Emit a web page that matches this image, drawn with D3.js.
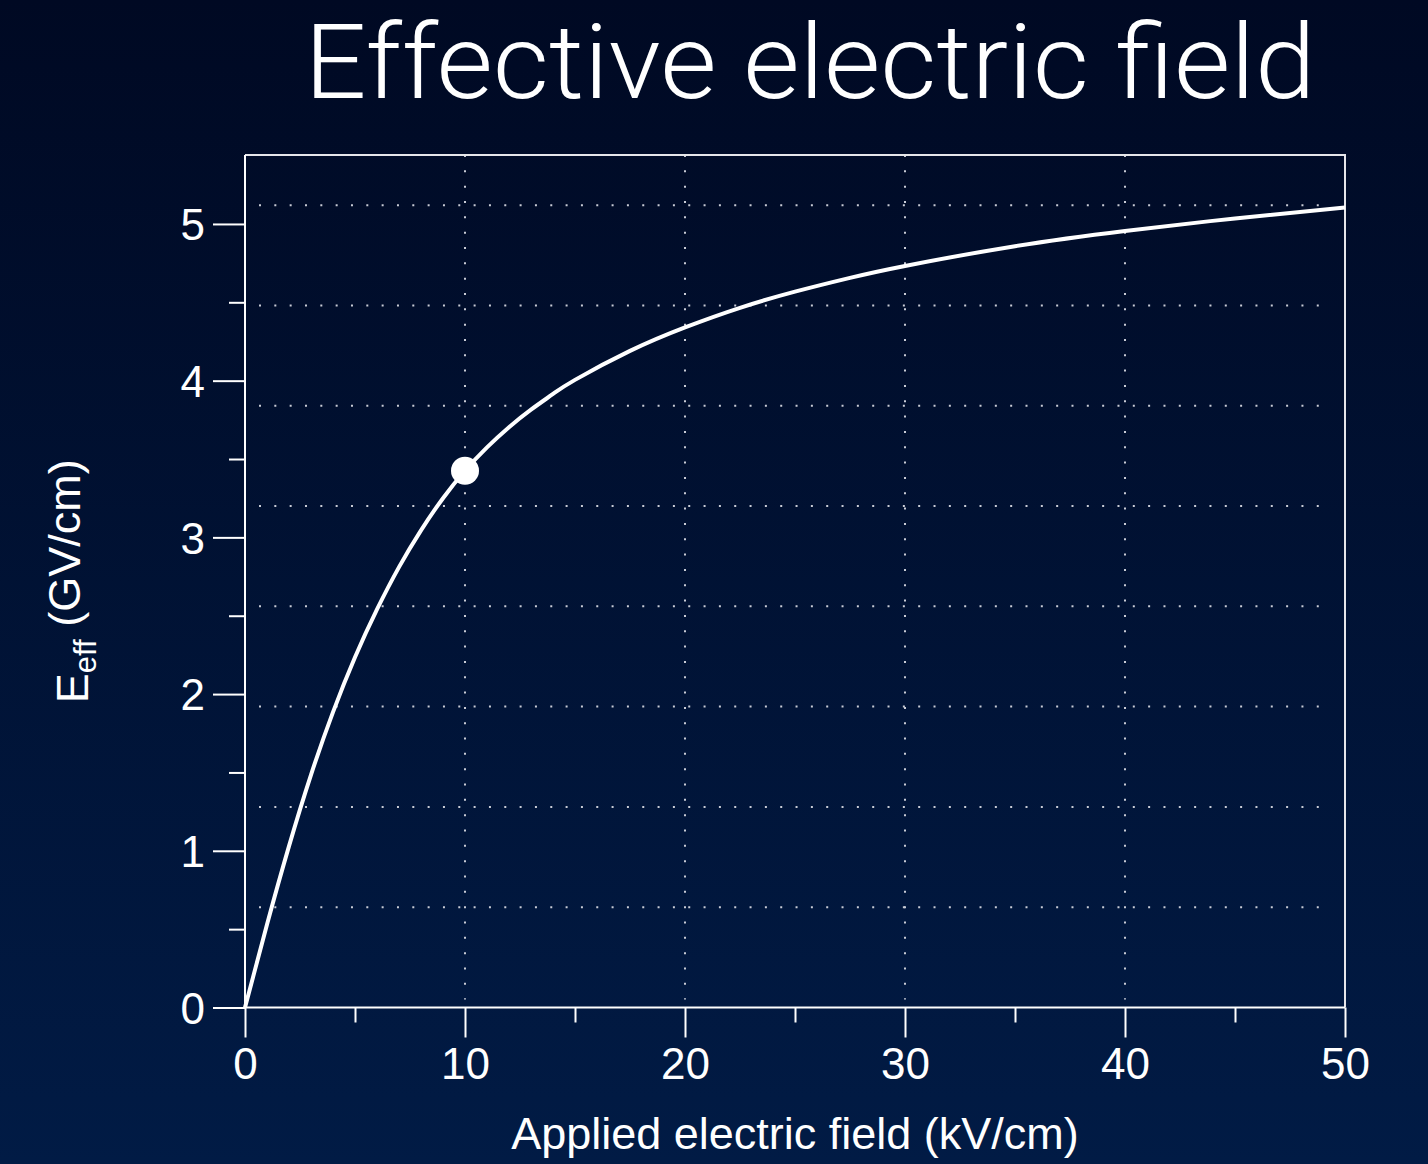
<!DOCTYPE html>
<html>
<head>
<meta charset="utf-8">
<script src="https://cdn.jsdelivr.net/npm/d3@7"></script>
<style>
  html, body { margin: 0; padding: 0; background: #000a26; }
  svg { display: block; }
</style>
</head>
<body>
<script>
// Applied field (kV/cm) and resulting effective field (GV/cm)
const fieldKV = [0, 1, 2, 3, 4, 5, 6, 7, 8, 9, 10, 11, 12, 13, 14, 15, 17.5, 20, 22.5, 25, 27.5, 30, 35, 40, 45, 50];
const effGV   = [0, 0.53, 1.03, 1.485, 1.885, 2.235, 2.54, 2.81, 3.045, 3.25, 3.425, 3.574, 3.703, 3.815, 3.915, 4.005, 4.19, 4.34, 4.465, 4.568, 4.656, 4.732, 4.858, 4.955, 5.035, 5.105];

// Highlighted operating point
const markField = [10];
const markEff   = [3.425];

// Axis ticks and grid positions
const xMajor = [0, 10, 20, 30, 40, 50];
const xMinor = [5, 15, 25, 35, 45];
const yMajor = [0, 1, 2, 3, 4, 5];
const yMinor = [0.5, 1.5, 2.5, 3.5, 4.5];
const xGrid  = [10, 20, 30, 40];
const yGrid  = [0.64, 1.28, 1.92, 2.56, 3.2, 3.84, 4.48, 5.12];

const titleText = "Effective electric field";
const xLabel = "Applied electric field (kV/cm)";

const W = 1428, H = 1164;
const plot = { left: 245, right: 1345, top: 155, bottom: 1007.5 };

const svg = d3.select("body").append("svg")
  .attr("width", W).attr("height", H);

// background gradient
const defs = svg.append("defs");
const grad = defs.append("linearGradient")
  .attr("id", "bg").attr("x1", 0).attr("y1", 0).attr("x2", 0).attr("y2", 1);
grad.append("stop").attr("offset", "0%").attr("stop-color", "#000923");
grad.append("stop").attr("offset", "100%").attr("stop-color", "#011b45");
svg.append("rect").attr("width", W).attr("height", H).attr("fill", "url(#bg)");

const x = d3.scaleLinear().domain([0, 50]).range([plot.left, plot.right]);
const y = d3.scaleLinear().domain([0, 5.44]).range([plot.bottom, plot.top]);

const font = "'Liberation Sans', Arial, Helvetica, sans-serif";

// dotted grid
const gridG = svg.append("g")
  .attr("stroke", "#c9ccd6").attr("stroke-width", 2)
  .attr("stroke-dasharray", "2,13.33").attr("fill", "none");
gridG.selectAll("line.h").data(yGrid).join("line")
  .attr("class", "h")
  .attr("x1", plot.left + 14).attr("x2", plot.right - 14)
  .attr("y1", d => y(d)).attr("y2", d => y(d));
gridG.selectAll("line.v").data(xGrid).join("line")
  .attr("class", "v")
  .attr("x1", d => x(d)).attr("x2", d => x(d))
  .attr("y1", plot.top).attr("y2", plot.bottom - 8);

// frame (top and right)
svg.append("path")
  .attr("d", `M${plot.left},${plot.top}H${plot.right}V${plot.bottom}`)
  .attr("fill", "none").attr("stroke", "#e6e6ea").attr("stroke-width", 2);

// axes
function styleAxis(g) {
  g.select(".domain").remove();
  g.selectAll(".tick line").attr("stroke", "#fff").attr("stroke-width", 2);
  g.selectAll(".tick text").attr("fill", "#fff")
    .style("font-family", font).style("font-size", "44px");
}

svg.append("g")
  .attr("transform", `translate(0,${plot.bottom})`)
  .call(d3.axisBottom(x).tickValues(xMajor).tickSize(30).tickPadding(10).tickFormat(d3.format("d")))
  .call(styleAxis);
svg.append("g")
  .attr("transform", `translate(0,${plot.bottom})`)
  .call(d3.axisBottom(x).tickValues(xMinor).tickSize(15).tickFormat(""))
  .call(styleAxis);

const yAxis = svg.append("g")
  .attr("transform", `translate(${plot.left},0)`)
  .call(d3.axisLeft(y).tickValues(yMajor).tickSize(32).tickPadding(8).tickFormat(d3.format("d")))
  .call(styleAxis);
yAxis.selectAll(".tick text").attr("dy", "0.36em");
svg.append("g")
  .attr("transform", `translate(${plot.left},0)`)
  .call(d3.axisLeft(y).tickValues(yMinor).tickSize(16).tickFormat(""))
  .call(styleAxis);

// axis lines (left and bottom)
svg.append("path")
  .attr("d", `M${plot.left},${plot.top}V${plot.bottom}H${plot.right}`)
  .attr("fill", "none").attr("stroke", "#fff").attr("stroke-width", 2);

// curve
const pts = fieldKV.map((v, i) => [v, effGV[i]]);
const line = d3.line().x(d => x(d[0])).y(d => y(d[1])).curve(d3.curveNatural);
svg.append("path").datum(pts)
  .attr("d", line)
  .attr("fill", "none").attr("stroke", "#fff").attr("stroke-width", 4)
  .attr("stroke-linejoin", "round");

// operating point
svg.selectAll("circle.mark").data(markField.map((v, i) => [v, markEff[i]])).join("circle")
  .attr("class", "mark")
  .attr("cx", d => x(d[0])).attr("cy", d => y(d[1])).attr("r", 14)
  .attr("fill", "#fff");

// title
svg.append("text")
  .attr("x", 810).attr("y", 98)
  .attr("text-anchor", "middle")
  .attr("fill", "#fff")
  .attr("textLength", 1011).attr("lengthAdjust", "spacingAndGlyphs")
  .style("font-family", "Roboto, 'Liberation Sans', sans-serif")
  .style("font-weight", 300)
  .style("font-size", "104px")
  .text(titleText);

// x axis title
svg.append("text")
  .attr("x", (plot.left + plot.right) / 2).attr("y", 1149)
  .attr("text-anchor", "middle").attr("fill", "#fff")
  .style("font-family", font).style("font-size", "45px")
  .text(xLabel);

// y axis title: E with subscript "eff"
const yTitle = svg.append("text")
  .attr("transform", `translate(88,${(plot.top + plot.bottom) / 2}) rotate(-90)`)
  .attr("text-anchor", "middle").attr("fill", "#fff")
  .style("font-family", font).style("font-size", "45px");
yTitle.append("tspan").text("E");
yTitle.append("tspan").attr("dy", "0.25em").style("font-size", "31px").text("eff");
yTitle.append("tspan").attr("dy", "-0.35em").text(" (GV/cm)");
</script>
</body>
</html>
